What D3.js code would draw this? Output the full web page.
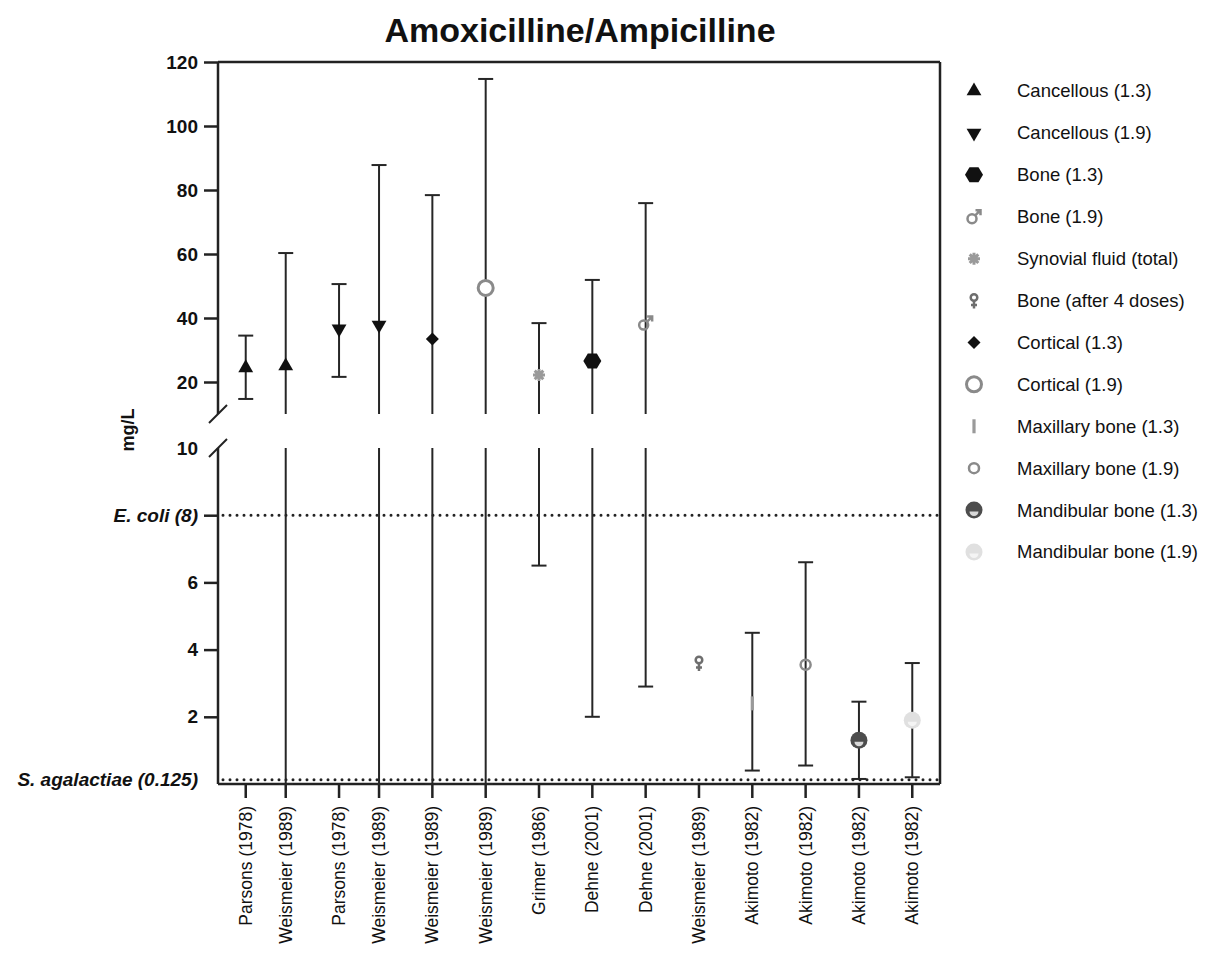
<!DOCTYPE html>
<html>
<head>
<meta charset="utf-8">
<script src="https://cdn.jsdelivr.net/npm/d3@7"></script>
<style>
  body { margin: 0; background: #fff; }
  text { font-family: "Liberation Sans", Arial, sans-serif; fill: #111; }
</style>
</head>
<body>
<div id="chart"></div>
<script>
// Columns (study + tissue)
const studies = ["Parsons (1978)", "Weismeier (1989)", "Parsons (1978)", "Weismeier (1989)",
  "Weismeier (1989)", "Weismeier (1989)", "Grimer (1986)", "Dehne (2001)", "Dehne (2001)",
  "Weismeier (1989)", "Akimoto (1982)", "Akimoto (1982)", "Akimoto (1982)", "Akimoto (1982)"];
const tissues = ["Cancellous (1.3)", "Cancellous (1.3)", "Cancellous (1.9)", "Cancellous (1.9)",
  "Cortical (1.3)", "Cortical (1.9)", "Synovial fluid (total)", "Bone (1.3)", "Bone (1.9)",
  "Bone (after 4 doses)", "Maxillary bone (1.3)", "Maxillary bone (1.9)",
  "Mandibular bone (1.3)", "Mandibular bone (1.9)"];
const means = [24.4, 25.0, 36.6, 37.8, 33.4, 49.4, 22.2, 26.6, 38.4, 3.6, 2.4, 3.55, 1.3, 1.9];
const lows  = [14.7, 0, 21.6, 0, 0, 0, 6.5, 2.0, 2.9, null, 0.4, 0.55, 0.15, 0.2];
const highs = [34.5, 60.3, 50.6, 87.8, 78.4, 114.7, 38.4, 51.9, 75.9, null, 4.5, 6.6, 2.45, 3.6];

// Legend order
const legendItems = ["Cancellous (1.3)", "Cancellous (1.9)", "Bone (1.3)", "Bone (1.9)",
  "Synovial fluid (total)", "Bone (after 4 doses)", "Cortical (1.3)", "Cortical (1.9)",
  "Maxillary bone (1.3)", "Maxillary bone (1.9)", "Mandibular bone (1.3)", "Mandibular bone (1.9)"];
const markerOf = {
  "Cancellous (1.3)": "triUp", "Cancellous (1.9)": "triDown", "Bone (1.3)": "hex",
  "Bone (1.9)": "male", "Synovial fluid (total)": "asterisk", "Bone (after 4 doses)": "female",
  "Cortical (1.3)": "diamond", "Cortical (1.9)": "ringBig", "Maxillary bone (1.3)": "bar",
  "Maxillary bone (1.9)": "ringSmall", "Mandibular bone (1.3)": "halfDark",
  "Mandibular bone (1.9)": "halfLight"
};

// Axis ticks
const upperTicks = [20, 40, 60, 80, 100, 120];
const lowerTicks = [0.125, 2, 4, 6, 8, 10];
const thresholdValues = [8, 0.125];
const thresholdLabels = ["E. coli (8)", "S. agalactiae (0.125)"];

const W = 1212, H = 965;
const plotL = 218, plotR = 940, plotT = 62, plotB = 784;

const svg = d3.select("#chart").append("svg")
  .attr("width", W).attr("height", H);

// Title
svg.append("text")
  .attr("x", 580).attr("y", 42)
  .attr("text-anchor", "middle")
  .style("font-size", "34px").style("font-weight", "bold")
  .text("Amoxicilline/Ampicilline");

// Column positions: same tissue as previous column sits closer
const slots = [];
tissues.forEach((t, i) => {
  if (i === 0) slots.push(0);
  else slots.push(slots[i - 1] + (t === tissues[i - 1] ? 0.75 : 1));
});
const x = d3.scaleLinear().domain([-0.52, d3.max(slots) + 0.52]).range([plotL, plotR]);

// Broken y axis: two segments
const yUp = d3.scaleLinear().domain([10, 120]).range([414, plotT]);
const yLo = d3.scaleLinear().domain([0, 10]).range([plotB, 448]);
const y = v => v >= 10 ? yUp(v) : yLo(v);

// Upper axis
const gUp = svg.append("g").attr("transform", `translate(${plotL},0)`)
  .call(d3.axisLeft(yUp).tickValues(upperTicks).tickSize(14).tickPadding(6));
// Lower axis
const gLo = svg.append("g").attr("transform", `translate(${plotL},0)`)
  .call(d3.axisLeft(yLo).tickValues(lowerTicks).tickSize(14).tickPadding(6)
    .tickFormat(d => {
      const k = thresholdValues.indexOf(d);
      return k >= 0 ? thresholdLabels[k] : d;
    }));
[gUp, gLo].forEach(g => {
  g.select(".domain").remove();
  g.selectAll(".tick line").attr("stroke", "#222").attr("stroke-width", 2.5);
  g.selectAll(".tick text")
    .style("font-family", '"Liberation Sans", Arial, sans-serif')
    .style("font-size", "19px").style("font-weight", "bold").attr("fill", "#111");
});
gLo.selectAll(".tick").filter(d => d === 10 || d === 0.125).select("line").remove();
gLo.selectAll(".tick").filter(d => thresholdValues.includes(d)).select("text")
  .style("font-style", "italic");

// Axis lines with break marks
const frame = svg.append("g").attr("stroke", "#222").attr("stroke-width", 2.5).attr("fill", "none");
frame.append("line").attr("x1", plotL).attr("x2", plotL).attr("y1", plotT).attr("y2", yUp(10));
frame.append("line").attr("x1", plotL).attr("x2", plotL).attr("y1", yLo(10)).attr("y2", plotB);
[yUp(10), yLo(10)].forEach(yy => {
  frame.append("line").attr("x1", plotL - 9).attr("y1", yy + 9).attr("x2", plotL + 9).attr("y2", yy - 9)
    .attr("stroke-width", 2);
});
frame.append("line").attr("x1", plotL).attr("x2", plotR).attr("y1", plotT).attr("y2", plotT);
frame.append("line").attr("x1", plotR).attr("x2", plotR).attr("y1", plotT).attr("y2", plotB);
frame.append("line").attr("x1", plotL).attr("x2", plotR).attr("y1", plotB).attr("y2", plotB);

// X axis ticks and labels
const gx = svg.append("g").attr("transform", `translate(0,${plotB})`);
slots.forEach((s, i) => {
  gx.append("line").attr("x1", x(s)).attr("x2", x(s)).attr("y1", 0).attr("y2", 14)
    .attr("stroke", "#222").attr("stroke-width", 2.5);
  gx.append("text")
    .attr("transform", `translate(${x(s)},22) rotate(-90)`)
    .attr("text-anchor", "end").attr("dy", "0.35em")
    .style("font-size", "17.5px")
    .text(studies[i]);
});

// y label
svg.append("text")
  .attr("transform", "translate(128,430) rotate(-90)")
  .attr("text-anchor", "middle").attr("dy", "0.35em")
  .style("font-size", "18px").style("font-weight", "bold")
  .text("mg/L");

// Threshold dotted lines
thresholdValues.forEach(v => {
  svg.append("line")
    .attr("x1", plotL + 5).attr("x2", plotR).attr("y1", yLo(v)).attr("y2", yLo(v))
    .attr("stroke", "#222").attr("stroke-width", 3)
    .attr("stroke-linecap", "round").attr("stroke-dasharray", "0,7");
});

// Error bars
const eb = svg.append("g").attr("stroke", "#262626").attr("stroke-width", 2).attr("fill", "none");
const segments = (lo, hi) => {
  if (lo >= 10) return [[yUp(hi), yUp(lo)]];
  if (hi < 10) return [[yLo(hi), yLo(lo)]];
  return [[yUp(hi), yUp(10)], [yLo(10), yLo(lo)]];
};
slots.forEach((s, i) => {
  if (lows[i] === null) return;
  const cx = x(s);
  segments(lows[i], highs[i]).forEach(([a, b]) => {
    eb.append("line").attr("x1", cx).attr("x2", cx).attr("y1", a).attr("y2", b);
  });
  [lows[i], highs[i]].forEach(v => {
    eb.append("line").attr("x1", cx - 7.5).attr("x2", cx + 7.5).attr("y1", y(v)).attr("y2", y(v));
  });
});

// Marker glyphs
function drawMarker(g, type) {
  const tri = d3.symbol(d3.symbolTriangle, 95)();
  switch (type) {
    case "triUp":
      g.append("path").attr("d", tri).attr("fill", "#111"); break;
    case "triDown":
      g.append("path").attr("d", tri).attr("transform", "rotate(180)").attr("fill", "#111"); break;
    case "hex":
      g.append("path").attr("d", "M-9,0L-4.5,-7.5L4.5,-7.5L9,0L4.5,7.5L-4.5,7.5Z").attr("fill", "#111"); break;
    case "male":
      g.append("circle").attr("cx", -2).attr("cy", 2).attr("r", 4.5)
        .attr("fill", "none").attr("stroke", "#8a8a8a").attr("stroke-width", 2.5);
      g.append("path").attr("d", "M1.5,-1.5L6.5,-6.5M1.5,-6.5L6.5,-6.5L6.5,-1.5")
        .attr("fill", "none").attr("stroke", "#8a8a8a").attr("stroke-width", 2.5); break;
    case "asterisk":
      g.append("path").attr("d", "M-6,0L6,0M0,-6L0,6M-4.3,-4.3L4.3,4.3M-4.3,4.3L4.3,-4.3")
        .attr("stroke", "#9a9a9a").attr("stroke-width", 3); break;
    case "female":
      g.append("circle").attr("cx", 0).attr("cy", -3).attr("r", 3.3)
        .attr("fill", "#fff").attr("stroke", "#6e6e6e").attr("stroke-width", 2.5);
      g.append("path").attr("d", "M0,0.5L0,8M-3,4.5L3,4.5")
        .attr("stroke", "#6e6e6e").attr("stroke-width", 2.5); break;
    case "diamond":
      g.append("path").attr("d", "M-6.5,0L0,-6.5L6.5,0L0,6.5Z").attr("fill", "#111"); break;
    case "ringBig":
      g.append("circle").attr("r", 7.5).attr("fill", "#fff")
        .attr("stroke", "#8a8a8a").attr("stroke-width", 3); break;
    case "bar":
      g.append("rect").attr("x", -1.6).attr("y", -7).attr("width", 3.2).attr("height", 14)
        .attr("fill", "#9a9a9a"); break;
    case "ringSmall":
      g.append("circle").attr("r", 5).attr("fill", "none")
        .attr("stroke", "#8a8a8a").attr("stroke-width", 2.5); break;
    case "halfDark":
      g.append("circle").attr("r", 8.5).attr("fill", "#4d4d4d");
      g.append("path").attr("d", "M-4.5,1.5A4.5,4.5 0 0 0 4.5,1.5Z").attr("fill", "#d8d8d8"); break;
    case "halfLight":
      g.append("circle").attr("r", 8.5).attr("fill", "#e0e0e0");
      g.append("path").attr("d", "M-4.5,1.5A4.5,4.5 0 0 0 4.5,1.5Z").attr("fill", "#f4f4f4"); break;
  }
}

// Points
slots.forEach((s, i) => {
  const g = svg.append("g").attr("transform", `translate(${x(s)},${y(means[i])})`);
  drawMarker(g, markerOf[tissues[i]]);
});

// Legend
const ly = d3.scalePoint().domain(legendItems).range([91, 552]);
legendItems.forEach(name => {
  const g = svg.append("g").attr("transform", `translate(974,${ly(name)})`);
  drawMarker(g, markerOf[name]);
  svg.append("text")
    .attr("x", 1017).attr("y", ly(name)).attr("dy", "0.35em")
    .style("font-size", "18.5px")
    .text(name);
});
</script>
</body>
</html>
